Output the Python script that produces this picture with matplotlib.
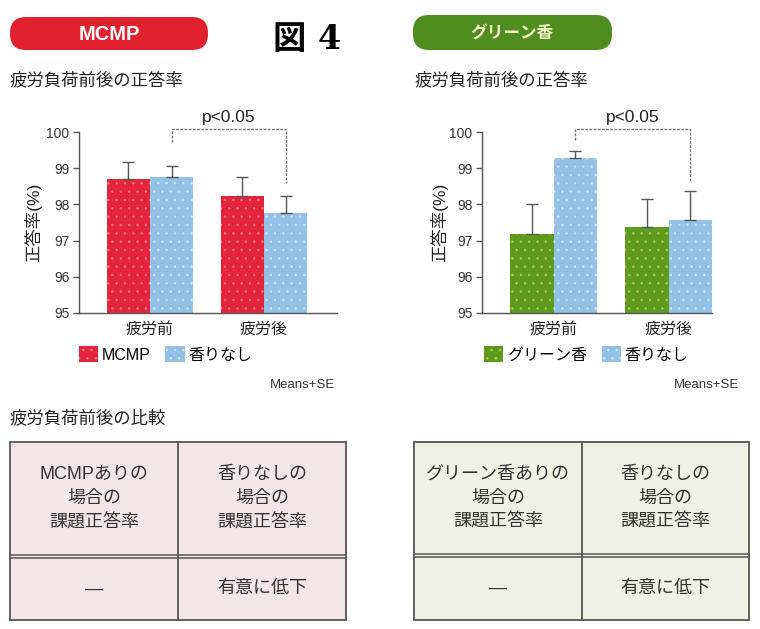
import numpy as np
import matplotlib.pyplot as plt
from matplotlib.patches import FancyBboxPatch, Rectangle, Patch

plt.rcParams['font.family'] = ['Liberation Sans', 'Noto Sans CJK JP']
plt.rcParams['hatch.linewidth'] = 0.6

# ---- data ----
groups = ['疲労前', '疲労後']
mcmp_mean = [98.70, 98.24]
mcmp_se = [0.48, 0.52]
plainL_mean = [98.75, 97.77]
plainL_se = [0.30, 0.46]
green_mean = [97.19, 97.38]
green_se = [0.83, 0.77]
plainR_mean = [99.29, 97.58]
plainR_se = [0.18, 0.80]
yticks = [95, 96, 97, 98, 99, 100]
left_names = ['MCMP', '香りなし']
right_names = ['グリーン香', '香りなし']
left_cells = ['MCMPありの\n場合の\n課題正答率', '香りなしの\n場合の\n課題正答率', '—', '有意に低下']
right_cells = ['グリーン香ありの\n場合の\n課題正答率', '香りなしの\n場合の\n課題正答率', '—', '有意に低下']

RED, RED_DOT = '#e3243a', '#f27a8a'
BLUE, BLUE_DOT = '#93c1e8', '#d2e7f8'
GREEN, GREEN_DOT = '#5d9a1e', '#a9cf55'
GREY = '#555555'
W = 0.378

fig = plt.figure(figsize=(7.6, 6.29), dpi=100)

# overlay in pixel coordinates for headers and tables
ov = fig.add_axes([0, 0, 1, 1])
ov.set_xlim(0, 760)
ov.set_ylim(629, 0)
ov.axis('off')

ov.add_patch(FancyBboxPatch((10, 17), 198, 33, boxstyle='round,pad=0,rounding_size=16',
                            fc='#e0222f', ec='none'))
ov.text(109, 34, 'MCMP', color='white', weight='bold', fontsize=14.5, ha='center', va='center')
ov.add_patch(FancyBboxPatch((413, 15), 199, 35, boxstyle='round,pad=0,rounding_size=16',
                            fc='#4f8d20', ec='none'))
ov.text(512, 33, 'グリーン香', color='#f3f5c6', weight='bold', fontsize=12, ha='center', va='center')
ov.text(307, 40, '図 4', fontsize=24, weight='bold', ha='center', va='center',
        family=['DejaVu Serif', 'Noto Sans CJK JP'])

ov.text(10, 80, '疲労負荷前後の正答率', fontsize=12.5, va='center', color='#222')
ov.text(415, 80, '疲労負荷前後の正答率', fontsize=12.5, va='center', color='#222')
ov.text(10, 418, '疲労負荷前後の比較', fontsize=12.5, va='center', color='#222')
ov.text(335, 385, 'Means+SE', fontsize=9.5, ha='right', va='center', color='#333')
ov.text(739, 385, 'Means+SE', fontsize=9.5, ha='right', va='center', color='#333')


def table(x0, y0, x1, y1, xm, yd, fill, cells):
    ov.add_patch(Rectangle((x0, y0), x1 - x0, y1 - y0, fc=fill, ec=GREY, lw=1.3))
    ov.plot([xm, xm], [y0, y1], color=GREY, lw=1.3)
    ov.plot([x0, x1], [yd, yd], color=GREY, lw=1.1)
    ov.plot([x0, x1], [yd + 3, yd + 3], color=GREY, lw=1.1)
    centers = [((x0 + xm) / 2, (y0 + yd) / 2), ((xm + x1) / 2, (y0 + yd) / 2),
               ((x0 + xm) / 2, (yd + 3 + y1) / 2), ((xm + x1) / 2, (yd + 3 + y1) / 2)]
    for (cx, cy), txt in zip(centers, cells):
        lines = txt.split('\n')
        n = len(lines)
        for i, ln in enumerate(lines):
            ov.text(cx, cy + (i - (n - 1) / 2) * 24, ln, fontsize=13, ha='center',
                    va='center', color='#333')


table(10, 442, 346, 620, 178, 555, '#f4e5e7', left_cells)
table(414, 442, 749, 620, 582, 554, '#eef1e3', right_cells)


def chart(rect, a_mean, a_se, b_mean, b_se, ca, da, cb, db, xlim, brk, names, leg_x, ylab_x):
    ax = fig.add_axes(rect)
    x = np.arange(len(groups))
    for xs, m, s, c, d in [(x - W / 2, a_mean, a_se, ca, da), (x + W / 2, b_mean, b_se, cb, db)]:
        ax.bar(xs, m, width=W, color=c, edgecolor='none', zorder=2)
        ax.bar(xs, m, width=W, facecolor='none', edgecolor=d, linewidth=0, hatch='..', zorder=3)
        ax.errorbar(xs, m, yerr=[np.zeros(len(s)), s], fmt='none', ecolor=GREY,
                    elinewidth=1, capsize=4, capthick=1, zorder=4)
    ax.set_ylim(95, 100)
    ax.set_xlim(*xlim)
    ax.set_yticks(yticks)
    ax.set_xticks(x)
    ax.set_xticklabels(groups, fontsize=11.5, color='#222')
    ax.tick_params(axis='x', length=0, pad=6)
    ax.tick_params(axis='y', length=4, width=1, color=GREY, labelsize=10, labelcolor='#333', pad=3)
    for sp in ['top', 'right']:
        ax.spines[sp].set_visible(False)
    for sp in ['left', 'bottom']:
        ax.spines[sp].set_color(GREY)
        ax.spines[sp].set_linewidth(1)
    ax.set_ylabel('正答率(%)', fontsize=12.5, color='#222')
    ax.yaxis.set_label_coords(ylab_x, 0.5)
    # significance bracket between the two no-scent bars
    x1, x2 = x[0] + W / 2, x[1] + W / 2
    y1, ytop, y2 = brk
    ax.plot([x1, x1, x2, x2], [y1, ytop, ytop, y2], color='#777', lw=1,
            ls=(0, (2, 1)), clip_on=False, zorder=5)
    ax.text((x1 + x2) / 2, 100.4, 'p<0.05', fontsize=12.5, ha='center', va='center',
            color='#222', clip_on=False)
    handles = [Patch(facecolor=ca, edgecolor=da, hatch='..', linewidth=0),
               Patch(facecolor=cb, edgecolor=db, hatch='..', linewidth=0)]
    fig.legend(handles, names, loc='upper left', bbox_to_anchor=(leg_x / 760, 1 - 346 / 629),
               ncol=2, frameon=False, fontsize=11.5, handlelength=1.2, handleheight=1.2,
               handletextpad=0.25, columnspacing=0.9, borderpad=0, borderaxespad=0)
    return ax


chart([79 / 760, 1 - 313 / 629, 258 / 760, 181 / 629],
      mcmp_mean, mcmp_se, plainL_mean, plainL_se, RED, RED_DOT, BLUE, BLUE_DOT,
      (-0.623, 1.64), (99.73, 100.07, 98.59), left_names, 79, -0.143)
chart([482 / 760, 1 - 313 / 629, 230 / 760, 181 / 629],
      green_mean, green_se, plainR_mean, plainR_se, GREEN, GREEN_DOT, BLUE, BLUE_DOT,
      (-0.622, 1.378), (99.78, 100.09, 98.61), right_names, 484, -0.148)

fig.savefig('out.png', dpi=100)
